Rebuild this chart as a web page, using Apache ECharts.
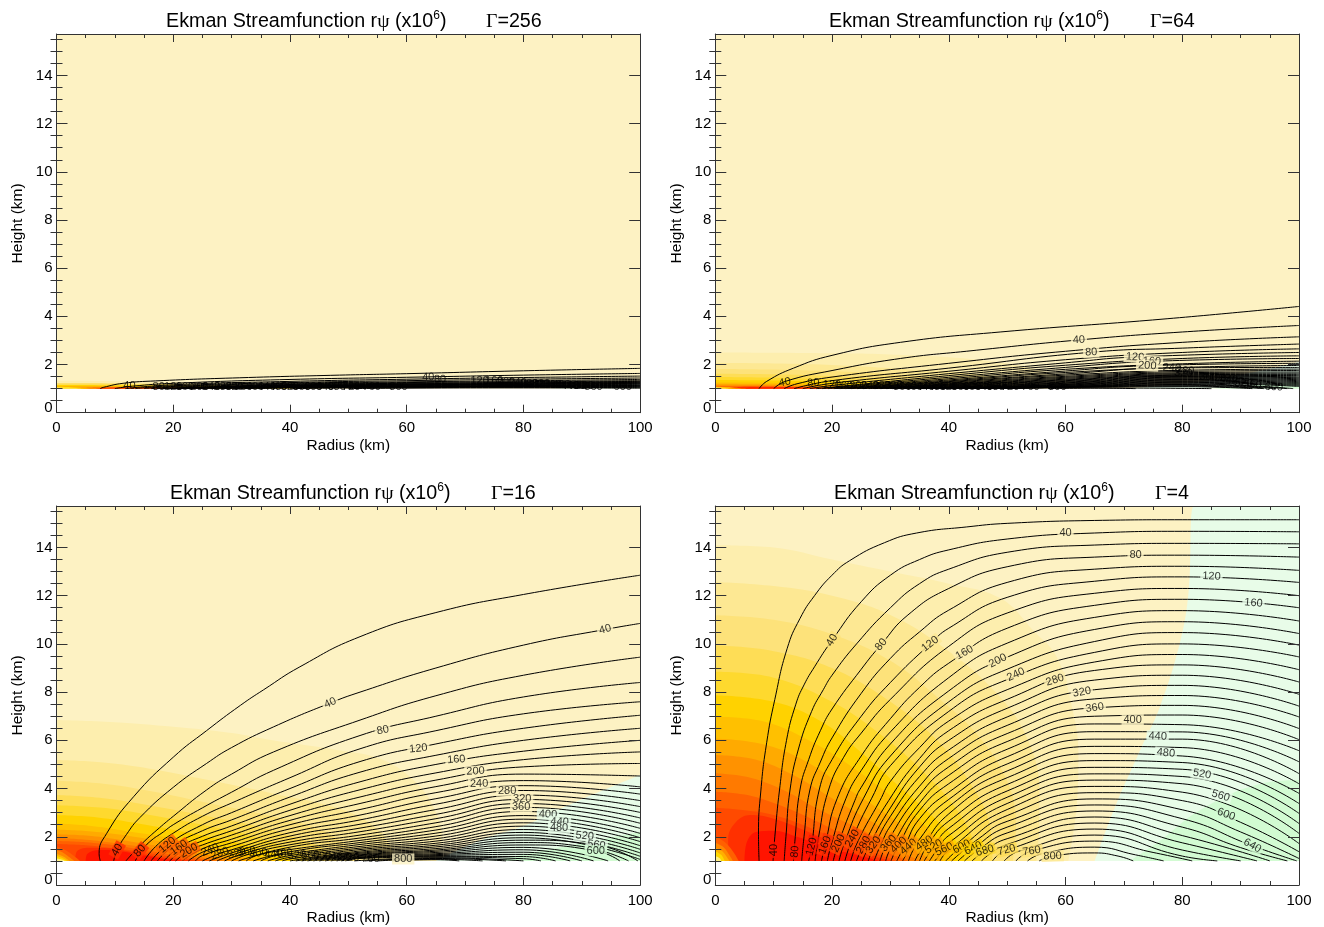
<!DOCTYPE html>
<html><head><meta charset="utf-8">
<style>html,body{margin:0;padding:0;background:#fff}#c{width:1324px;height:927px}</style>
<script src="https://cdn.jsdelivr.net/npm/echarts@6/dist/echarts.min.js"></script>
</head><body><div id="c"></div>
<script>
const xTicks=[0,20,40,60,80,100];
const yMajorTicks=[0,2,4,6,8,10,12,14];
const yMinorTicks=[0.5,1,1.5,2.5,3,3.5,4.5,5,5.5,6.5,7,7.5,8.5,9,9.5,10.5,11,11.5,12.5,13,13.5,14.5,15,15.5];
const yTop=15.72, ground=1;
const baseColor='#fdf2c3', greenColor='#e8fce8', green2Color='#d2fbd2';
const bandPalette=['#fdeeae','#fde893','#fde27a','#fedd56','#fed92e','#ffd200','#ffc000','#ffaa00','#ff9200','#ff7a00','#ff6000','#ff4a00','#ff3000','#ff1400'];
const hotPalette=['#ff6000','#ff8800','#ffb000','#ffd800','#fff080'];
const labelFills=[null,baseColor,greenColor,green2Color].concat(bandPalette);

/* ---------- Gamma = 4 ---------- */
const p4Green=[65,1,68.5,3.25,72.8,5.6,76.2,7.4,79.7,10.15,81.1,12.2,82,15.72,100,15.72];
const p4Green2=[71,1,76,1.8,83,3.1,93.4,4.2,100,4.35];
const p4BandIdx=[0,1,2,3,4,5,6,7,8,9,10,11,12,13];
const p4Bands=[
[0,14.09,10,14,20,13.5,30,13,40,12.5,48.8,11.9,54.5,10.55,58.5,9.46,61,7.5,62.2,5.46,62,3.5,60.5,1],
[0,12.57,10,12.4,20,12,30,11.2,40,9.7,48,8,53,6.3,55.5,4,55.5,2.5,55,1],
[0,11.19,10,11,20,10.4,30,9.3,38,7.8,45,6.2,50,4.3,51.5,2.5,51,1],
[0,9.94,10,9.7,20,9,30,7.6,38,6,44,4.1,47,2.5,47.5,1],
[0,8.84,10,8.6,20,7.6,28,6.3,36,4.6,42,2.9,45,1.4,45.5,1],
[0,7.87,10,7.6,18,6.8,25,5.5,31,4.2,37,2.9,41,1.9,43,1],
[0,6.98,8,6.8,16,6,24,4.8,31,3.5,37,2.2,41,1],
[0,6.08,8,5.85,15,5.2,22,4.1,29,3,35,1.9,39,1],
[0,5.39,7,5.2,13,4.6,20,3.6,27,2.6,33,1.7,37,1],
[0,4.63,6,4.45,12,3.9,18,3.1,25,2.3,31,1.5,35,1],
[0,3.87,5,3.75,10,3.4,16,2.8,22,2.1,28,1.5,33,1],
[0,3.2,5,3.1,10,2.9,16,2.4,22,1.8,27,1.35,31,1],
[2.2,1,2.2,1.9,3.5,2.6,6,2.9,10,2.75,16,2.2,22,1.6,30,1],
[5,1,5.3,1.7,7,2.2,10,2.25,14,2,20,1.5,25,1.2,28,1]];
const p4Hot=[[0,2,1.5,1.8,3,1.4,4,1],[0,1.75,1.5,1.55,2.5,1.2,3,1],[0,1.55,1.2,1.4,2,1.15,2.4,1],[0,1.4,1,1.25,1.6,1],[0,1.2,0.8,1.1,1,1]];
const p4Lines=[
[7.5,1,7.4,2.1,7.8,3.9,8.8,5.9,10.2,7.7,12.3,9.8,14.5,11.05,17,12,20,12.85,23,13.45,29,14.2,34.5,14.6,43,14.85,50,15,65,15.12,80,15.15,100,15.15],
[9.9,1,10.2,2,11,3.94,12.2,6,13.8,7.5,15.2,8.3,17,9.05,20,10.15,25,11.75,30,12.85,35,13.5,40,13.9,50,14.35,65,14.6,80,14.67,100,14.65],
[11.8,1,12.1,2,12.8,3.94,14.2,5.6,16.5,7.2,18.5,8.1,20,8.7,24.2,10,30,11.5,35,12.5,40,13.1,50,13.8,65,14.1,80,14.17,100,14.15],
[13.4,1,13.7,2,14.5,3.94,16,5.2,18,6.4,20,7.3,25,8.95,28.4,9.97,33,11.2,40,12.3,50,13.2,65,13.6,80,13.68,100,13.6],
[14.8,1,15.2,2,16.2,3.94,18,5.1,20,6.1,25,7.95,30,9.4,35,10.5,40,11.4,50,12.55,65,13.1,80,13.22,100,13.05],
[16,1,16.5,1.6,17.8,3.94,20,5.2,25,7,30,8.4,36.8,10,40,10.65,50,11.93,65,12.6,80,12.78,100,12.55],
[17.1,1,17.7,2,19.4,3.94,22,5.3,25,6.3,30,7.7,40,9.9,50,11.28,65,12.1,80,12.3,100,12],
[18.2,1,18.8,1.65,20.9,3.6,25,5.35,30,6.9,35,8.2,40,9.2,50,10.65,65,11.6,80,11.85,100,11.5],
[19.2,1,19.9,1.7,22.4,3.6,25,4.75,30,6.35,40,8.6,50,10.03,65,11.1,80,11.38,100,10.95],
[20.2,1,21.1,1.73,23.9,3.5,25,4.05,30,5.85,40,8.05,50,9.45,65,10.6,80,10.92,100,10.43],
[21.2,1,22.2,1.8,25.4,3.6,30,5.35,40,7.6,50,8.95,65,10.1,80,10.47,100,9.95],
[22.2,1,23.5,1.93,26.8,3.6,30,4.95,40,7.2,50,8.52,65,9.65,80,10,100,9.46],
[23.2,1,24.5,1.85,28.2,3.5,30,4.3,35,5.7,40,6.8,50,8.1,65,9.25,80,9.56,100,8.93],
[24.2,1,25.4,1.66,29.7,3.5,35,5.25,40,6.4,50,7.7,65,8.9,80,9.13,100,8.42],
[25.2,1,26.5,1.7,30,3.2,35,4.9,40,6,50,7.33,65,8.5,80,8.7,100,7.91],
[26.2,1,27.5,1.75,30,2.85,35,4.5,40,5.6,50,6.97,65,8.1,80,8.28,100,7.42],
[27.2,1,28.5,1.75,30,2.45,35,4.1,40,5.25,50,6.62,65,7.72,80,7.86,100,6.97],
[28.2,1,30,2,35,3.75,40,4.9,50,6.28,65,7.35,80,7.45,100,6.49],
[29.2,1,30,1.5,35,3.4,40,4.55,50,5.95,65,7,80,7.05,100,6.03],
[30.1,1,31.4,1.66,35,3.1,40,4.2,50,5.63,65,6.68,80,6.65,100,5.57],
[31.1,1,32.4,1.6,35,2.75,40,3.85,50,5.32,65,6.36,80,6.35,100,5.11],
[32.1,1,33.4,1.6,35,2.35,40,3.55,50,5.02,65,6.05,80,6.05,100,4.62],
[33.1,1,35,1.9,40,3.25,50,4.73,65,5.75,80,5.7,100,4.2],
[34.2,1,35,1.35,40,2.95,50,4.45,65,5.45,80,5.35,100,3.8],
[35,1,36.5,1.7,40,2.65,50,4.17,65,5.16,80,5.08,100,3.38],
[35.8,1,37.4,1.59,40,2.35,50,3.9,65,4.88,80,4.8,100,2.97],
[36.7,1,38.4,1.6,40,2.05,50,3.64,65,4.61,80,4.5,100,2.55],
[37.6,1,39.2,1.48,40,1.75,50,3.38,65,4.35,80,4.2,100,2.14],
[38.5,1,40,1.45,50,3.13,65,4.09,80,3.85,100,1.72],
[39.5,1,42.2,1.59,50,2.88,65,3.83,80,3.5,90,2.6,100,1.38],
[40.5,1,45,1.9,50,2.64,65,3.57,80,3.12,90,2.2,100,1.1],
[41.6,1,44.2,1.52,50,2.4,65,3.32,80,2.75,92,1.63,99.6,1],
[42.7,1,45,1.45,50,2.16,65,3.07,80,2.4,90,1.55,98,1],
[44,1,46.2,1.42,50,1.92,65,2.82,80,2.05,95,1],
[45.6,1,50,1.68,65,2.57,80,1.75,92.8,1],
[47.5,1,49.9,1.45,65,2.32,80,1.45,90,1],
[49.5,1,52,1.4,65,2.07,80,1.2,86,1],
[51.5,1,54.2,1.41,65,1.82,75,1.35,81.7,1],
[53.5,1,56,1.3,65,1.57,72,1.25,76.8,1],
[55.5,1,57.8,1.2,65,1.33,69,1.2,71.6,1]];
const p4Labels=[
[10.06,1.45,40,90,17],[13.66,1.38,80,85,17],[16.5,1.59,120,75,17],[18.8,1.66,160,70,16],[21.1,1.73,200,65,15],[23.5,1.93,240,60,15],[25.4,1.66,280,60,15],[27.1,1.66,320,55,14],[29.7,1.73,360,50,13],[31.4,1.66,400,45,13],[33.1,1.59,440,40,12],[35.8,1.73,480,35,11],[37.4,1.59,520,30,11],[39.2,1.48,560,25,11],[42.2,1.59,600,28,10],[44.2,1.52,640,25,9],[46.2,1.42,680,17,8],[49.9,1.45,720,15,7],[54.2,1.41,760,8,6],[57.8,1.2,800,2,5],
[20,10.15,40,60,6],[28.4,9.97,80,50,5],[36.8,10,120,38,5],[42.7,9.64,160,30,4],[48.4,9.3,200,27,4],[51.5,8.73,240,25,4],[58.2,8.5,280,17,4],[62.8,8,320,10,1],[65,7.35,360,8,1],[71.5,6.86,400,0,1],[75.8,6.17,440,-2,2],[77.2,5.48,480,-5,2],[83.4,4.6,520,-10,2],[86.6,3.7,560,-17,2],[87.5,2.93,600,-20,3],[92,1.63,640,-30,3],
[60,14.6,40,0,1],[72,13.7,80,-1,1],[85,12.8,120,-2,2],[92.2,11.7,160,-5,2]];

/* ---------- Gamma = 16 ---------- */
const p3Green=[65,1,72.5,1.85,80.5,2.5,88.5,3.4,100,4.56];
const p3Green2=[75,1,85,1.5,100,2.2];
const p3BandIdx=[0,1,2,3,4,5,6,7,8,9,10,11,12,13];
const p3Bands=[
[0,6.84,10,6.75,20,6.56,30,6.3,37,6,48,5.6,56,5.18,62,4.15,65,3,66,2,65,1],
[0,5.18,7,5.1,14,4.9,26,4.35,37,3.8,48,3.2,54,2.5,57,1.7,58,1],
[0,4.32,8,4.2,16,3.9,26,3.4,36,2.9,45,2.3,50,1.6,52,1],
[0,3.73,8,3.6,16,3.3,26,2.85,35,2.4,43,1.8,47,1.3,48,1],
[0,3.31,8,3.2,16,2.9,25,2.5,34,2,40,1.5,44,1],
[0,2.9,7,2.8,14,2.55,23,2.15,31,1.75,37,1.35,41,1],
[0,2.55,6,2.45,13,2.2,21,1.9,29,1.5,38,1],
[0,2.3,6,2.22,12,2.05,19,1.75,27,1.35,35,1],
[0,2.1,6,2.03,11,1.87,18,1.6,25,1.28,32,1],
[0,1.95,5,1.88,10,1.74,16,1.52,23,1.22,29,1],
[0,1.82,5,1.77,10,1.64,15,1.45,21,1.2,27,1],
[0,1.7,5,1.65,9,1.55,14,1.4,20,1.16,25,1],
[3.2,1,3.5,1.4,6,1.55,9,1.52,14,1.32,19,1.12,24,1],
[5,1,5.3,1.3,7.5,1.45,11,1.4,15,1.22,19,1.06,22,1]];
const p3Hot=[[0,1.6,1.5,1.45,3,1.2,4,1],[0,1.45,1.2,1.33,2.4,1.12,3,1],[0,1.3,1,1.2,1.8,1.08,2.2,1],[0,1.2,0.8,1.14,1.8,1],[0,1.1,1,1.05,1.4,1]];
const p3Lines=[
[7.5,1,7.3,1.3,8.6,2.14,13.2,3.66,20,5.3,25.7,6.4,31.5,7.45,35.5,8.1,41.7,9.05,52,10.3,65,11.3,80,12.05,100,12.85],
[9.8,1,10.4,1.45,12,2.1,14.3,2.8,20,4.05,25.7,5.04,30,5.7,37.2,6.56,46.9,7.55,52,8,65,9,80,9.95,94,10.6,100,10.85],
[11.9,1,13,1.3,15,1.8,17.2,2.28,20,2.85,25.7,3.94,30,4.6,37.2,5.52,52,6.84,65,7.85,80,8.7,100,9.45],
[13.5,1,14.5,1.4,16,1.8,18.3,2.2,20,2.5,25,3.2,30,3.85,37.2,4.76,52,6.2,65,7,80,7.8,100,8.4],
[15,1,17,1.6,20,2.15,25,2.85,30,3.4,40,4.45,52,5.65,65,6.4,80,7.1,100,7.6],
[16.2,1,19,1.66,25,2.5,30,3,40,4,52,5.12,65,5.85,80,6.5,100,7.04],
[17.3,1,20,1.62,25,2.25,30,2.7,40,3.65,52,4.68,65,5.38,80,6,100,6.5],
[18.4,1,21,1.55,25,2.02,30,2.45,40,3.35,52,4.28,65,5,80,5.55,100,6],
[19.4,1,22,1.5,25,1.83,30,2.25,40,3.1,52,3.95,65,4.65,80,5.2,100,5.52],
[20.4,1,22.7,1.42,25,1.66,30,2.07,40,2.88,52,3.65,65,4.35,80,4.9,100,5.04],
[21.5,1,25,1.5,30,1.9,40,2.68,52,3.38,65,4.08,80,4.6,100,4.52],
[22.6,1,25,1.36,30,1.75,40,2.5,52,3.13,65,3.83,80,4.33,100,4.07],
[23.8,1,25,1.22,30,1.6,40,2.33,52,2.9,65,3.58,80,4.12,100,3.77],
[25,1,28,1.31,30,1.46,40,2.17,52,2.7,65,3.35,80,3.92,100,3.5],
[26.2,1,30,1.33,40,2.03,52,2.52,65,3.13,80,3.73,100,3.25],
[27.5,1,30.9,1.31,40,1.9,52,2.36,65,2.93,80,3.55,100,3.01],
[28.8,1,32,1.3,40,1.78,52,2.21,65,2.75,80,3.38,100,2.78],
[30,1,32.6,1.25,40,1.67,52,2.07,65,2.58,80,3.22,100,2.56],
[31.2,1,40,1.57,52,1.95,65,2.42,80,3.05,100,2.35],
[32.5,1,34.6,1.25,40,1.47,52,1.85,65,2.28,80,2.88,100,2.14],
[33.7,1,40,1.38,52,1.76,65,2.15,80,2.73,100,1.96],
[35,1,37.2,1.2,40,1.3,52,1.68,65,2.03,80,2.58,100,1.8],
[36.2,1,40,1.22,52,1.6,65,1.92,80,2.44,100,1.63],
[37.5,1,40,1.15,52,1.53,65,1.82,80,2.3,100,1.48],
[38.7,1,40,1.08,52,1.47,65,1.73,80,2.18,100,1.33],
[40,1,52,1.41,65,1.65,80,2.07,100,1.19],
[41,1,52,1.36,65,1.58,80,1.96,100,1.06],
[42,1,52,1.32,65,1.51,80,1.86,92.5,1.66,99.6,1],
[43,1,52,1.28,65,1.45,80,1.76,90,1.6,98,1],
[44,1,52,1.25,65,1.4,80,1.66,92.4,1.42,96.5,1],
[45,1,52,1.22,65,1.35,80,1.56,94.5,1],
[46,1,52,1.19,65,1.3,80,1.46,92,1],
[47,1,52,1.16,65,1.26,80,1.36,90,1],
[48,1,52,1.14,65,1.22,80,1.27,88,1],
[48.8,1,52,1.12,65,1.19,80,1.18,85.5,1],
[49.5,1,52,1.1,65,1.16,80,1.09,83,1],
[51,1,65,1.13,80,1],
[52.8,1,65,1.1,77,1],
[55,1,65,1.07,73,1],
[57.5,1,65,1.05,69,1]];
const p3Labels=[
[10.4,1.45,40,60,16],[14.3,1.42,80,50,16],[19,1.66,120,40,14],[21,1.55,160,35,14],[22.7,1.42,200,30,14],[26.3,1.45,240,22,0],[28,1.31,280,20,0],[30.9,1.31,320,15,0],[32.6,1.38,360,10,0],[34.6,1.31,400,8,0],[37.2,1.28,440,5,0],[38.9,1.31,480,5,0],[41.2,1.24,520,5,0],[43.5,1.24,560,3,0],[45.5,1.2,600,3,0],[47.5,1.17,640,2,0],[49,1.15,680,2,0],[50.3,1.13,720,0,0],[53.8,1.1,760,0,0],[59.4,1.08,800,0,1],
[46.9,7.55,40,25,1],[94,10.6,40,15,1],[55.9,6.42,80,12,1],[62,5.66,120,6,1],[68.5,5.2,160,4,1],[71.8,4.72,200,3,1],[72.4,4.2,240,1,1],[77.2,3.9,280,0,1],[79.8,3.55,320,0,1],[79.6,3.22,360,0,1],[84.2,2.93,400,-2,2],[86.2,2.62,440,-3,2],[86.1,2.35,480,0,2],[90.5,2.03,520,-5,2],[92.5,1.66,560,-7,2],[92.4,1.42,600,-1,3]];

/* ---------- Gamma = 64 ---------- */
const p2Green=[70,1,85,1.35,100,2.1];
const p2Green2=[85,1,100,1.3];
const p2BandIdx=[0,1,2,3,4,5,6,7,8,10,12,13];
const p2Bands=[
[0,2.5,15,2.48,30,2.42,45,2.2,55,1.8,62,1.2,63,1],
[0,2.06,15,2.02,30,1.85,45,1.6,53,1.2,55,1],
[0,1.81,15,1.76,30,1.6,42,1.35,50,1],
[0,1.62,15,1.57,28,1.42,38,1.25,47,1],
[0,1.48,12,1.44,25,1.32,35,1.17,44,1],
[0,1.36,12,1.33,24,1.23,33,1.12,41,1],
[0,1.25,12,1.23,22,1.15,30,1.07,38,1],
[0,1.2,10,1.18,20,1.12,35,1],
[0,1.16,10,1.14,20,1.08,32,1],
[0,1.1,10,1.09,20,1.04,28,1],
[2,1,3,1.06,8,1.08,15,1.05,24,1],
[5,1,6,1.05,10,1.05,22,1]];
const p2Hot=[[0,1.08,3,1.05,5,1],[0,1.06,2,1.04,4,1],[0,1.05,2,1.02,3,1]];
const p2Lines=[
[7.5,1,8.8,1.3,13.4,1.85,20,2.38,31.7,2.92,48.8,3.35,77.4,3.9,100,4.41],
[10,1,12,1.3,20,1.75,31.7,2.25,43,2.55,62.3,3.02,80,3.35,100,3.62],
[11.8,1,14,1.2,20,1.48,40,2.05,60,2.55,80,2.92,100,3.15],
[13.5,1,20,1.33,40,1.85,64.4,2.51,80,2.68,100,2.85],
[15,1,20,1.22,40,1.72,60,2.2,80,2.5,100,2.65],
[16.2,1,20,1.13,40,1.62,60,2.07,71.8,2.31,100,2.5],
[17.3,1,20,1.06,40,1.54,60,1.97,80,2.25,100,2.36],
[18.3,1,40,1.47,60,1.88,74.8,2.13,100,2.25],
[19.3,1,40,1.41,60,1.8,80,2.03,100,2.14],
[20.3,1,40,1.36,60,1.73,74,1.95,100,2.05],
[21.3,1,40,1.32,60,1.67,80,1.88,100,1.96],
[22.3,1,40,1.29,60,1.61,78.2,1.86,100,1.88],
[23.3,1,40,1.26,60,1.56,80,1.76,100,1.81],
[24.3,1,40,1.23,60,1.51,80,1.71,100,1.75],
[25.3,1,40,1.2,60,1.47,80,1.66,100,1.69],
[26.3,1,40,1.18,60,1.43,80,1.62,100,1.64],
[27.3,1,40,1.16,60,1.39,80,1.58,100,1.59],
[28.3,1,40,1.14,60,1.36,80,1.55,100,1.54],
[29.3,1,40,1.12,60,1.33,80,1.52,100,1.49],
[30.3,1,40,1.1,60,1.3,80,1.5,100,1.45],
[31.3,1,40,1.08,60,1.27,80,1.47,100,1.41],
[32.3,1,40,1.06,60,1.24,80,1.44,100,1.37],
[33.3,1,40,1.05,60,1.22,80,1.41,100,1.33],
[34.5,1,40,1.03,60,1.19,80,1.38,100,1.29],
[35.5,1,40,1.02,60,1.17,80,1.35,100,1.25],
[36.7,1,60,1.15,80,1.32,100,1.21],
[37.8,1,60,1.13,80,1.29,100,1.17],
[39,1,60,1.11,80,1.26,100,1.13],
[40.5,1,60,1.09,80,1.23,100,1.09],
[42,1,60,1.08,80,1.2,99,1],
[44,1,60,1.07,80,1.17,98,1],
[46,1,60,1.06,80,1.14,96,1],
[47,1,60,1.055,80,1.11,94,1],
[48,1,60,1.05,80,1.08,92,1],
[50,1,60,1.03,85,1],
[57,1,65,1.02,72,1]];
const p2Labels=[
[11.9,1.26,40,10,0],[16.8,1.23,80,5,0],[20,1.14,120,0,0],[22,1.12,160,0,0],[24.5,1.1,200,0,0],[26.5,1.1,240,0,0],[28.5,1.09,280,0,0],[30.5,1.09,320,0,0],[32,1.08,360,0,0],[34,1.08,400,0,0],[36,1.07,440,0,0],[38,1.07,480,0,0],[40,1.06,520,0,0],[42,1.06,560,0,0],[44,1.06,600,0,0],[46,1.05,640,0,0],[48,1.05,680,0,0],[50.5,1.05,720,0,0],[54,1.05,760,0,0],[58.6,1.05,800,0,0],
[62.3,3.02,40,3,1],[64.4,2.51,80,2,1],[71.9,2.31,120,-3,1],[74.8,2.13,160,-3,1],[74,1.95,200,-3,1],[78.2,1.86,240,-3,0],[80.5,1.74,280,-3,0],[80.2,1.64,320,-3,0],[84.5,1.48,360,-3,0],[86,1.44,400,-3,0],[88,1.38,440,-3,0],[89,1.3,480,-3,0],[90.5,1.22,520,-3,0],[92,1.15,560,-3,0],[95.7,1.06,600,-3,0]];

/* ---------- Gamma = 256 ---------- */
const p1Green=[85,1,100,1.25];
const p1Green2=[];
const p1BandIdx=[0,3,5,7,10,13];
const p1Bands=[
[0,1.33,15,1.3,40,1.15,60,1],
[0,1.22,15,1.2,35,1.1,47,1],
[0,1.15,15,1.13,35,1.05,43,1],
[0,1.1,15,1.09,30,1.03,38,1],
[3,1,7,1.05,15,1.06,28,1],
[6,1,9,1.04,15,1.04,22,1]];
const p1Hot=[[0,1.08,3,1.06,6,1],[0,1.05,3,1.03,5,1]];
const p1Lines=[
[7.5,1,8,1.05,11.4,1.22,17,1.32,31.4,1.45,48.5,1.56,60,1.62,80,1.74,100,1.84],
[10,1,13,1.1,20,1.22,40,1.38,60,1.47,80,1.56,100,1.63],
[11.8,1,20,1.16,40,1.3,60,1.39,80,1.46,100,1.52],
[13.5,1,20,1.12,40,1.25,60,1.33,80,1.39,100,1.44],
[15,1,20,1.09,40,1.22,60,1.28,80,1.33,100,1.38],
[16.2,1,20,1.06,40,1.19,60,1.25,80,1.29,100,1.33],
[17.3,1,40,1.17,60,1.22,80,1.26,100,1.3],
[18.3,1,40,1.15,60,1.2,80,1.24,100,1.28],
[19.3,1,40,1.13,60,1.18,80,1.22,100,1.26],
[20.3,1,40,1.12,60,1.16,80,1.2,100,1.24],
[21.3,1,40,1.11,60,1.15,80,1.185,100,1.22],
[22.3,1,40,1.1,60,1.14,80,1.17,100,1.2],
[24.3,1,40,1.085,60,1.12,80,1.15,100,1.18],
[26.3,1,40,1.07,60,1.1,80,1.13,100,1.15],
[28.3,1,40,1.06,60,1.09,80,1.12,100,1.13],
[30.3,1,40,1.05,60,1.08,80,1.1,100,1.11],
[32.3,1,40,1.04,60,1.07,80,1.09,100,1.09],
[34.5,1,40,1.03,60,1.06,80,1.07,100,1.07],
[40,1,60,1.04,80,1.05,100,1.04],
[50,1,60,1.02,80,1.03,100,1.02]];
const p1Labels=[
[12.5,1.1,40,0,0],[17.5,1.08,80,0,0],[20,1.07,120,0,0],[22,1.07,160,0,0],[24.5,1.07,200,0,0],[26.5,1.06,240,0,0],[28.5,1.06,280,0,0],[30.5,1.06,320,0,0],[32,1.06,360,0,0],[34,1.06,400,0,0],[36,1.06,440,0,0],[38,1.06,480,0,0],[40,1.06,520,0,0],[42,1.06,560,0,0],[44,1.06,600,0,0],[46,1.06,640,0,0],[48,1.06,680,0,0],[50.5,1.06,720,0,0],[54,1.06,760,0,0],[58.6,1.05,800,0,0],
[63.7,1.47,40,1,0],[65.7,1.38,80,1,0],[72.5,1.33,120,0,0],[75,1.3,160,0,0],[77,1.27,200,0,0],[79,1.24,240,0,0],[81,1.21,280,0,0],[83,1.18,320,0,0],[85,1.16,360,0,0],[86.5,1.14,400,0,0],[88,1.12,440,0,0],[89,1.1,480,0,0],[90.5,1.09,520,0,0],[92,1.07,560,0,0],[97,1.06,600,0,0]];

const gammas=['256','64','16','4'];
const panels=[
 {left:56.5,top:34,height:378.7,titleX:166,gammaX:486,bands:p1Bands,idx:p1BandIdx,hot:p1Hot,green:p1Green,green2:p1Green2,lines:p1Lines,labels:p1Labels},
 {left:715.3,top:34,height:378.7,titleX:829,gammaX:1150,bands:p2Bands,idx:p2BandIdx,hot:p2Hot,green:p2Green,green2:p2Green2,lines:p2Lines,labels:p2Labels},
 {left:56.5,top:506,height:379,titleX:170,gammaX:491,bands:p3Bands,idx:p3BandIdx,hot:p3Hot,green:p3Green,green2:p3Green2,lines:p3Lines,labels:p3Labels},
 {left:715.3,top:506,height:379,titleX:834,gammaX:1155,bands:p4Bands,idx:p4BandIdx,hot:p4Hot,green:p4Green,green2:p4Green2,lines:p4Lines,labels:p4Labels}];

const SANS='"Liberation Sans",Arial,sans-serif', SERIF='"Liberation Serif",serif';
const AXC='#333';
const pairs=a=>{const o=[];for(let i=0;i+1<a.length;i+=2)o.push([a[i],a[i+1]]);return o;};
const opt={animation:false,backgroundColor:'#fff',grid:[],xAxis:[],yAxis:[],series:[],title:[]};

panels.forEach((p,i)=>{
 opt.grid.push({left:p.left,top:p.top,width:583.7,height:p.height,containLabel:false,outerBoundsMode:'none'});
 const xi=2*i, yi=4*i;
 const xBase={gridIndex:i,type:'value',min:0,max:100,interval:20,z:6,splitLine:{show:false},
  axisLine:{show:true,onZero:false,lineStyle:{color:AXC,width:1}},
  axisTick:{show:true,inside:true,length:8,lineStyle:{color:AXC}},
  minorTick:{show:true,splitNumber:4,length:4,lineStyle:{color:AXC}}};
 opt.xAxis.push(Object.assign({},xBase,{position:'bottom',name:'Radius (km)',nameLocation:'middle',nameGap:25,
   nameTextStyle:{fontFamily:SANS,fontSize:15.5,color:'#000'},
   axisLabel:{show:true,margin:8,fontFamily:SANS,fontSize:15,color:'#000',customValues:xTicks}}));
 opt.xAxis.push(Object.assign({},xBase,{position:'top',axisLabel:{show:false}}));
 const yBase={gridIndex:i,type:'value',min:0,max:yTop,z:6,splitLine:{show:false}};
 opt.yAxis.push(Object.assign({},yBase,{position:'left',name:'Height (km)',nameLocation:'middle',nameGap:31,
   nameTextStyle:{fontFamily:SANS,fontSize:15.5,color:'#000'},
   axisLine:{show:true,onZero:false,lineStyle:{color:AXC}},
   axisTick:{show:true,inside:true,length:11,lineStyle:{color:AXC},customValues:yMajorTicks},
   axisLabel:{show:true,margin:4,fontFamily:SANS,fontSize:15,lineHeight:10,color:'#000',customValues:yMajorTicks,verticalAlignMinLabel:'bottom'}}));
 opt.yAxis.push(Object.assign({},yBase,{position:'left',axisLine:{show:false},
   axisTick:{show:true,inside:true,length:6,lineStyle:{color:AXC},customValues:yMinorTicks},axisLabel:{show:false}}));
 opt.yAxis.push(Object.assign({},yBase,{position:'right',axisLine:{show:true,onZero:false,lineStyle:{color:AXC}},
   axisTick:{show:true,inside:true,length:11,lineStyle:{color:AXC},customValues:yMajorTicks},axisLabel:{show:false}}));
 opt.yAxis.push(Object.assign({},yBase,{position:'right',axisLine:{show:false},
   axisTick:{show:true,inside:true,length:6,lineStyle:{color:AXC},customValues:yMinorTicks},axisLabel:{show:false}}));

 const area=(pts,color)=>opt.series.push({type:'line',xAxisIndex:xi,yAxisIndex:yi,data:pairs(pts),smooth:0.4,showSymbol:false,silent:true,
   lineStyle:{width:0,opacity:0},areaStyle:{color,opacity:1,origin:ground},z:2});
 area([0,yTop,100,yTop],baseColor);
 area(p.green,greenColor);
 if(p.green2.length) area(p.green2,green2Color);
 p.bands.forEach((b,k)=>area(b,bandPalette[p.idx[k]]));
 p.hot.forEach((b,k)=>area(b,hotPalette[k+(p.hot.length===5?0:p.hot.length===3?2:3)]));
 p.lines.forEach(l=>opt.series.push({type:'line',xAxisIndex:xi,yAxisIndex:yi,data:pairs(l),smooth:0.5,showSymbol:false,silent:true,
   lineStyle:{color:'#000',width:1},z:3}));
 opt.series.push({type:'scatter',xAxisIndex:xi,yAxisIndex:yi,symbol:'circle',symbolSize:1,itemStyle:{color:'rgba(0,0,0,0)'},silent:true,clip:false,z:4,
   data:p.labels.map(r=>({value:[r[0],r[1]],label:{show:true,position:'inside',formatter:String(r[2]),rotate:r[3],
     fontFamily:SANS,fontSize:11,color:'#000',padding:[0,2],backgroundColor:labelFills[r[4]]||'transparent'}}))});

 const ty=p.top-24;
 const W='normal', FS=19.7;
 opt.title.push({left:p.titleX,top:ty,padding:0,text:'{a|Ekman Streamfunction r}{g|ψ}{a| (x10}{s|6}{a|)}',
   textStyle:{fontWeight:W,rich:{a:{fontFamily:SANS,fontSize:FS,fontWeight:W,color:'#000',lineHeight:24},g:{fontFamily:SERIF,fontSize:FS,fontWeight:W,color:'#000',lineHeight:24},
     s:{fontFamily:SANS,fontSize:12,fontWeight:W,color:'#000',lineHeight:24,verticalAlign:'top',padding:[0,0,6,0]}}}});
 opt.title.push({left:p.gammaX,top:ty,padding:0,text:'{g|Γ}{a|='+gammas[i]+'}',
   textStyle:{fontWeight:W,rich:{a:{fontFamily:SANS,fontSize:FS,fontWeight:W,color:'#000',lineHeight:24},g:{fontFamily:SERIF,fontSize:FS,fontWeight:W,color:'#000',lineHeight:24}}}});
});
echarts.init(document.getElementById('c'),null,{renderer:'canvas'}).setOption(opt);
</script></body></html>
